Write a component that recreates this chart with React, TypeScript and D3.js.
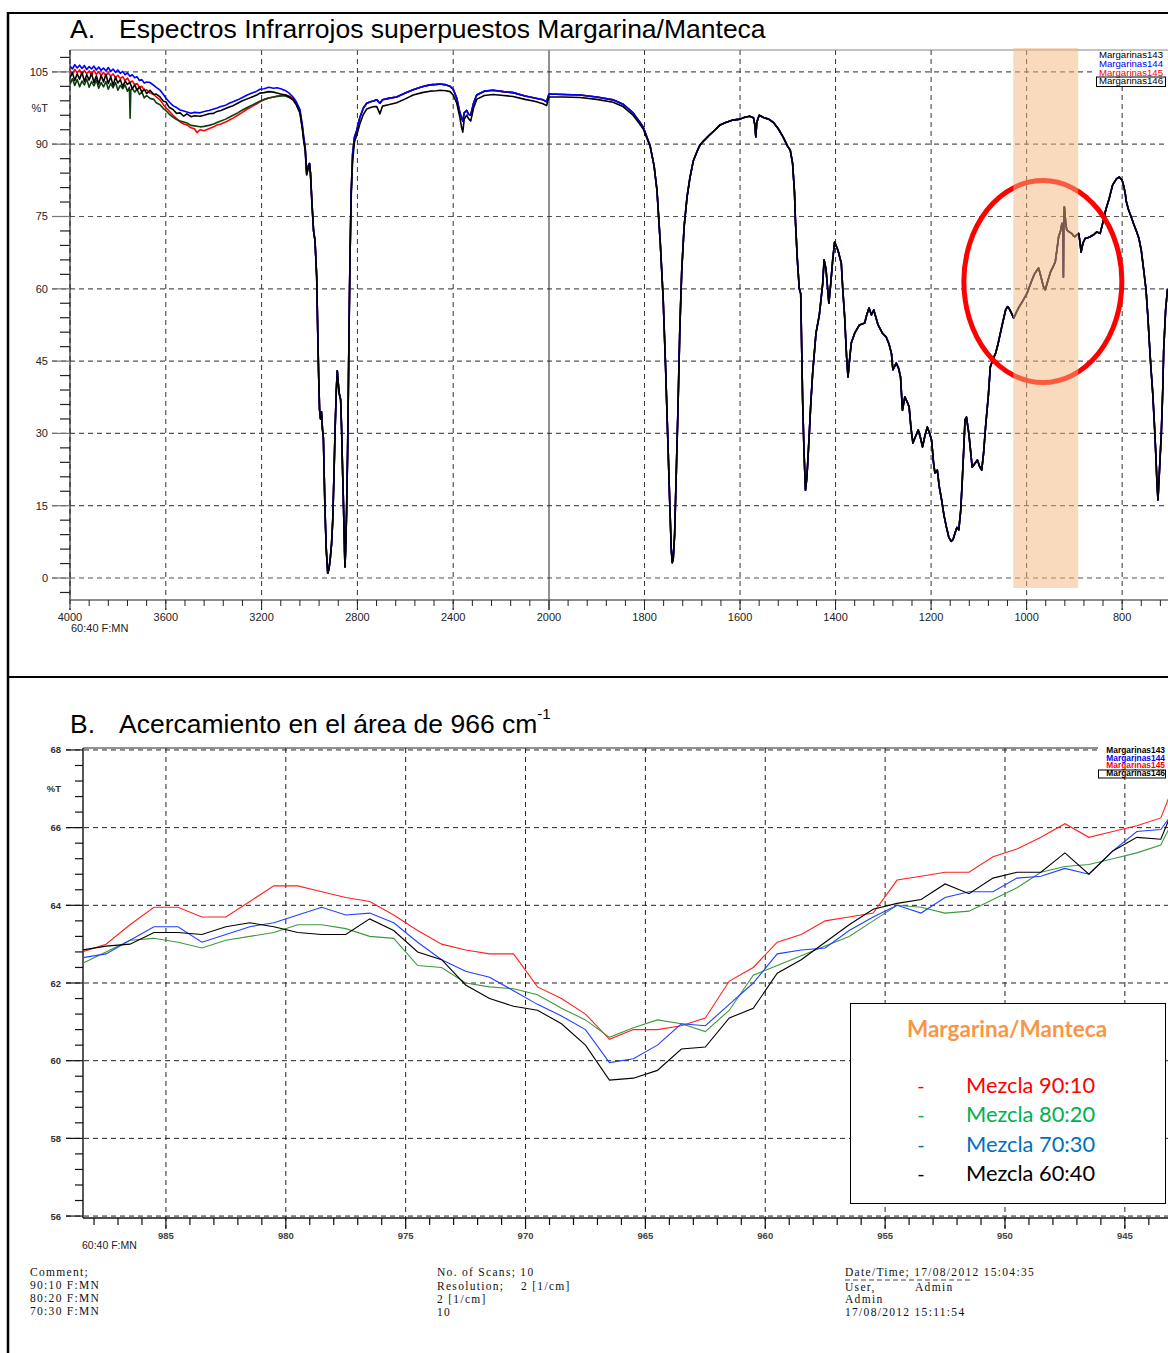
import React from 'react';
import * as d3 from 'd3';

type P = [number, number];

// ---------- Panel A: IR spectra (wavenumber cm-1, %T) ----------
const headS143: P[] = [[4000,102.4],[3990,103.6],[3980,102.2],[3970,103.4],[3960,101.9],[3950,103.1],[3940,102.3],[3930,103.5],[3920,101.8],[3910,103],[3900,102.1],[3890,103.3],[3880,101.6],[3870,102.8],[3860,101.9],[3850,103],[3840,101.4],[3830,102.6],[3820,101.7],[3810,102.8],[3800,101.2],[3790,102.2],[3780,101.5],[3770,102.3],[3760,101],[3752,101.8],[3749,95.4],[3746,101.2],[3740,101.6],[3730,100.8],[3720,101.4],[3710,100.3],[3700,100.8],[3690,99.6],[3680,100.1],[3666,99.5],[3650,99.3],[3640,98.6],[3624,98.2],[3610,97.4],[3600,97],[3585,96.2],[3570,95.6],[3555,95.1],[3540,94.8],[3525,94.6],[3512,94.4],[3495,93.9],[3480,93.8],[3457,93.6],[3440,93.7],[3420,93.9],[3400,94.2],[3386,94.5],[3370,94.8],[3350,95.2],[3335,95.6],[3319,96],[3300,96.5],[3280,97.1],[3260,97.6],[3240,98.1],[3220,98.6],[3207,98.9],[3190,99.3],[3170,99.6],[3150,99.8],[3136,99.9],[3120,100],[3100,100],[3085,99.7],[3069,99.2],[3055,98.2],[3040,96.6],[3030,93.4],[3024,90.8],[3018,88.9],[3012,83.8],[3006,85]];
const headS144: P[] = [[4000,106.2],[3990,105.6],[3980,106.5],[3970,105.8],[3960,106.4],[3950,105.7],[3940,106.3],[3930,105.5],[3920,106.1],[3910,105.6],[3900,106.2],[3890,105.4],[3880,106],[3870,105.3],[3860,105.8],[3850,105.2],[3840,105.9],[3830,105.1],[3820,105.6],[3810,104.9],[3800,105.4],[3790,104.7],[3780,105.1],[3770,104.4],[3760,104.8],[3750,104.1],[3740,104.4],[3730,103.8],[3720,104],[3710,103.2],[3700,103.4],[3690,102.7],[3680,102.9],[3666,102.8],[3650,102.2],[3640,101.8],[3624,101.2],[3610,100.3],[3600,99.6],[3585,98.7],[3570,98],[3555,97.6],[3540,97.1],[3525,96.9],[3512,96.7],[3495,96.4],[3480,96.6],[3457,96.5],[3440,96.8],[3420,97],[3400,97.3],[3386,97.5],[3370,97.8],[3350,98.1],[3335,98.5],[3319,98.8],[3300,99.2],[3280,99.7],[3260,100.2],[3240,100.6],[3220,101],[3207,101.4],[3190,101.5],[3170,101.8],[3150,101.6],[3136,101.7],[3120,101.5],[3100,101.1],[3085,100.6],[3069,99.8],[3055,98.8],[3040,97.2],[3030,94],[3024,91.5],[3018,89.5],[3012,84.5],[3006,85.5]];
const headS145: P[] = [[4000,105.2],[3990,104.6],[3980,105.5],[3970,104.8],[3960,105.4],[3950,104.5],[3940,105.3],[3930,104.6],[3920,105.2],[3910,104.4],[3900,105.3],[3890,104.5],[3880,105],[3870,104.3],[3860,104.9],[3850,104.2],[3840,104.8],[3830,104.1],[3820,104.6],[3810,103.8],[3800,104.3],[3790,103.6],[3780,104],[3770,103.2],[3760,103.7],[3750,102.8],[3740,103.1],[3730,102.4],[3720,102.6],[3710,101.8],[3700,102],[3690,101.2],[3680,101.3],[3666,100.6],[3650,100.3],[3640,99.8],[3624,99.2],[3610,98.2],[3600,97.6],[3585,96.8],[3570,96],[3555,95.3],[3540,94.6],[3525,94.2],[3512,94],[3495,93.4],[3480,93.2],[3470,92.4],[3457,93],[3440,92.8],[3420,93.2],[3400,93.6],[3386,94],[3370,94.2],[3350,94.6],[3335,95],[3319,95.4],[3300,96],[3280,96.6],[3260,97.3],[3240,97.8],[3220,98.4],[3207,98.8],[3190,99.2],[3170,99.6],[3150,99.8],[3136,100],[3120,100.1],[3100,100.2],[3085,100],[3069,99.5],[3055,98.6],[3040,97],[3030,93.8],[3024,91.2],[3018,89.3],[3012,84.2],[3006,85.3]];
const headS146: P[] = [[4000,103.8],[3990,104.8],[3980,103.2],[3970,104.6],[3960,103.5],[3950,104.9],[3940,103],[3930,104.4],[3920,103.3],[3910,104.7],[3900,102.8],[3890,104.2],[3880,102.5],[3870,104.3],[3860,102.9],[3850,104.5],[3840,102.6],[3830,104],[3820,102.2],[3810,103.9],[3800,102.7],[3790,103.4],[3780,101.9],[3770,103.1],[3760,102.4],[3750,102.8],[3740,101.5],[3730,102.3],[3720,101.2],[3710,101.9],[3700,100.8],[3690,101.4],[3680,100.5],[3666,101.2],[3650,100.3],[3640,100.4],[3624,99.8],[3610,98.9],[3600,98.8],[3585,97.6],[3570,97.2],[3555,96.4],[3540,96.5],[3525,95.8],[3512,96.3],[3495,95.7],[3480,95.9],[3457,95.8],[3440,96],[3420,96.3],[3400,96.4],[3386,96.8],[3370,97],[3350,97.4],[3335,97.7],[3319,98],[3300,98.5],[3280,99],[3260,99.4],[3240,99.8],[3220,100.2],[3207,100.6],[3190,100.7],[3170,100.9],[3150,100.8],[3136,100.6],[3120,100.4],[3100,100.2],[3085,99.8],[3069,99.2],[3055,98.2],[3040,96.5],[3030,93.2],[3024,90.6],[3018,88.7],[3012,83.6],[3006,84.8]];

const bandsCH: P[] = [[3000,86],[2996,84],[2990,78],[2983,72],[2977,70],[2970,62.5],[2966,52],[2962,42.5],[2958,35],[2954,33],[2950,34.5],[2946,31],[2942,29],[2938,20],[2935,13.5],[2930,6],[2924,1],[2919,1.8],[2914,3.7],[2908,7],[2903,12],[2898,21],[2893,31],[2888,39],[2884,43],[2881,41],[2876,38.3],[2870,37],[2866,31],[2863,24.5],[2859,17],[2856,10.6],[2852,2.3],[2849,6],[2845,14],[2841,26],[2838,38],[2834,55],[2831,66]];

const plateauColor: P[] = [[2826,80],[2820,88],[2812,91.5],[2803,92.8],[2790,95.5],[2775,97.5],[2761,98.5],[2745,98.8],[2730,99],[2719,99.2],[2706,98.5],[2695,99.2],[2670,99.5],[2636,99.8],[2600,100.6],[2567,101.3],[2530,101.9],[2497,102.3],[2470,102.4],[2455,102.5],[2430,102.3],[2413,102],[2400,101.4],[2385,99.5],[2372,96.5],[2365,95.5],[2360,94.8],[2354,96.5],[2344,97],[2336,96.2],[2327,96],[2315,98.5],[2302,100.2],[2270,101],[2234,101.2],[2190,100.9],[2150,100.7],[2100,100],[2060,99.6],[2025,99.2],[2010,98.8],[2000,100.4],[1970,100.3],[1935,100.2],[1900,99.8],[1866,99.2],[1845,98.3],[1824,96.5],[1810,94.6],[1803,93.6],[1795,91.5]];
const plateauBlack: P[] = [[2826,79],[2820,86.5],[2812,90.5],[2803,91.8],[2790,94.2],[2775,96.2],[2761,97.3],[2745,97.6],[2730,97.8],[2719,97.8],[2706,96.3],[2695,97.9],[2670,98.2],[2636,98.6],[2600,99.4],[2567,100.2],[2530,100.7],[2497,101],[2470,101.1],[2455,101.2],[2430,101.1],[2413,100.9],[2400,100.2],[2385,98.5],[2372,95.5],[2365,93.5],[2360,92.5],[2354,95.2],[2344,96],[2336,95.3],[2327,94.8],[2315,97.5],[2302,99.3],[2270,100.1],[2234,100.3],[2190,100.1],[2150,99.9],[2100,99.3],[2060,98.9],[2025,98.4],[2010,98],[2000,99.8],[1970,99.8],[1935,99.7],[1900,99.3],[1866,98.7],[1845,97.8],[1824,96],[1810,94.2],[1803,93.2],[1795,91.2]];

const fingerprint: P[] = [[1788,89.5],[1780,85.5],[1774,80.5],[1767,69.5],[1761,58],[1756,44],[1751,28],[1747,15],[1744,6],[1742,3.2],[1740,3.8],[1737,9],[1734,20],[1730,35],[1726,52],[1722,64],[1717,73],[1711,79],[1705,83],[1698,86.5],[1690,88.5],[1684,89.8],[1675,90.8],[1663,92],[1652,93],[1642,94],[1630,94.5],[1615,95],[1600,95.2],[1590,95.6],[1580,95.8],[1572,95.5],[1569,94],[1567,91.5],[1565,94.5],[1560,96],[1550,95.5],[1540,95.2],[1530,94.5],[1520,93.2],[1510,91.5],[1500,89.5],[1495,88.8],[1490,86],[1486,80],[1484,74],[1480,66],[1476,60],[1473,59],[1471,48],[1469,37],[1466,26],[1463,18.2],[1460,21],[1458,24.5],[1455,30],[1452,36],[1448,42.5],[1441,50.8],[1434,54.6],[1427,61],[1424,66],[1420,64],[1414,57],[1410,61.2],[1406,66],[1402,69.7],[1395,68],[1388,65.3],[1385,60],[1381,54.2],[1377,46],[1374,41.7],[1370,46],[1367,48.8],[1360,50.8],[1350,52.5],[1339,52.9],[1335,54.5],[1330,56],[1325,54.6],[1320,55.6],[1311,52.5],[1302,50.8],[1294,50],[1288,48.5],[1283,46.6],[1280,43.2],[1273,44.6],[1268,43.5],[1264,41.7],[1260,34.8],[1255,37.6],[1250,36.5],[1246,35.5],[1242,31],[1238,28],[1232,29.5],[1227,30.7],[1222,29],[1218,27.2],[1213,29.5],[1208,31.3],[1203,30],[1199,28.6],[1195,24],[1192,21.8],[1187,22.4],[1183,19],[1178,16.2],[1173,13],[1168,10.6],[1163,8.5],[1158,7.6],[1154,8],[1150,9.3],[1146,10.5],[1142,10],[1138,14],[1135,19.7],[1132,26],[1129,32.8],[1126,33.4],[1121,30],[1117,26],[1114,23],[1108,23.8],[1103,24.5],[1098,23],[1094,22.4],[1090,26],[1086,31.3],[1080,38],[1076,43.8],[1070,45.5],[1065,46.6],[1060,48.5],[1055,50.8],[1050,53],[1044,55.6],[1040,56.3],[1037,56],[1032,55],[1027,53.9],[1022,55],[1016,56.2],[1008,57.5],[999,59.1],[990,61.5],[984,63],[978,63.9],[975,64.3],[970,62.5],[965,60.5],[961,59.8],[956,61.5],[950,63.5],[945,64.5],[940,65.6],[936,68.5],[933,70.8],[929,72],[926,73.6],[924,72],[923,62.4],[922,75],[921,77],[918,73.5],[916,72.2],[911,71.8],[906,71.5],[902,71],[899,70.8],[895,71.2],[891,71.5],[888,69.5],[886,67.6],[882,69.5],[877,70.5],[872,70.6],[867,70.8],[860,71.2],[853,71.8],[846,71.5],[839,74.3],[834,76.5],[828,78.4],[820,81.5],[812,82.8],[806,83.2],[800,82.5],[796,81],[793,79.5],[792,78.4],[787,76.5],[781,74.9],[776,73.5],[771,72.2],[765,70.5],[760,68],[755,64],[750,59.8],[746,54],[743,48.8],[740,44],[736,38.4],[732,31],[729,24.5],[727,19.5],[725,16.2],[722,22],[718,30],[715,39],[713,47.3],[709,55.6],[705,60]];

const seriesA = [
  { name: 'Margarinas145', color: '#ff0000', data: [...headS145, ...bandsCH, ...plateauColor, ...fingerprint] },
  { name: 'Margarinas143', color: '#0c3f0c', data: [...headS143, ...bandsCH, ...plateauColor, ...fingerprint] },
  { name: 'Margarinas144', color: '#0000ff', data: [...headS144, ...bandsCH, ...plateauColor, ...fingerprint] },
  { name: 'Margarinas146', color: '#000000', data: [...headS146, ...bandsCH, ...plateauBlack, ...fingerprint] },
];
const legendA = [
  { label: 'Margarinas143', color: '#000000', boxed: false },
  { label: 'Margarinas144', color: '#0000ff', boxed: false },
  { label: 'Margarinas145', color: '#ff0000', boxed: false },
  { label: 'Margarinas146', color: '#000000', boxed: true },
];
const xTickLabelsA = [4000, 3600, 3200, 2800, 2400, 2000, 1800, 1600, 1400, 1200, 1000, 800];
const yTickLabelsA = [105, 90, 75, 60, 45, 30, 15, 0];
const highlightBand = [1028, 892];
const highlightCenter: P = [966, 61.5];

// ---------- Panel B: zoom around 966 cm-1 ----------
const wavenumbersB = [988.5, 987.5, 986.5, 985.5, 984.5, 983.5, 982.5, 981.5, 980.5, 979.5, 978.5, 977.5, 976.5, 975.5, 974.5, 973.5, 972.5, 971.5, 970.5, 969.5, 968.5, 967.5, 966.5, 965.5, 964.5, 963.5, 962.5, 961.5, 960.5, 959.5, 958.5, 957.5, 956.5, 955.5, 954.5, 953.5, 952.5, 951.5, 950.5, 949.5, 948.5, 947.5, 946.5, 945.5, 944.5, 943.5, 942.5];
const mix9010 = [62.8, 63.0, 63.5, 63.95, 63.95, 63.7, 63.7, 64.1, 64.5, 64.5, 64.35, 64.2, 64.1, 63.75, 63.35, 63.0, 62.85, 62.75, 62.75, 61.9, 61.6, 61.2, 60.55, 60.8, 60.8, 60.9, 61.1, 62.05, 62.4, 63.05, 63.25, 63.6, 63.7, 63.8, 64.65, 64.75, 64.85, 64.85, 65.25, 65.45, 65.75, 66.1, 65.75, 65.9, 66.05, 66.25, 67.8];
const mix8020 = [62.5, 62.8, 63.1, 63.15, 63.05, 62.9, 63.1, 63.2, 63.3, 63.5, 63.5, 63.4, 63.2, 63.15, 62.45, 62.4, 62.0, 61.9, 61.85, 61.7, 61.35, 61.05, 60.6, 60.85, 61.05, 60.95, 60.75, 61.3, 62.2, 62.45, 62.7, 62.95, 63.2, 63.6, 64.0, 63.95, 63.8, 63.85, 64.15, 64.45, 64.85, 65.0, 65.05, 65.2, 65.35, 65.55, 66.8];
const mix7030 = [62.65, 62.75, 63.1, 63.45, 63.45, 63.05, 63.25, 63.45, 63.55, 63.75, 63.95, 63.75, 63.8, 63.55, 63.05, 62.6, 62.3, 62.15, 61.8, 61.45, 61.15, 60.8, 59.95, 60.05, 60.4, 60.95, 60.9, 61.45, 62.0, 62.75, 62.85, 62.9, 63.35, 63.7, 64.0, 63.8, 64.2, 64.35, 64.35, 64.7, 64.75, 64.95, 64.8, 65.4, 65.9, 65.95, 66.8];
const mix6040 = [62.85, 62.95, 63.0, 63.3, 63.3, 63.25, 63.45, 63.55, 63.45, 63.3, 63.25, 63.25, 63.65, 63.35, 62.8, 62.6, 61.95, 61.6, 61.4, 61.3, 60.95, 60.4, 59.5, 59.55, 59.75, 60.3, 60.35, 61.1, 61.35, 62.25, 62.6, 63.05, 63.5, 63.9, 64.05, 64.15, 64.55, 64.3, 64.7, 64.85, 64.85, 65.35, 64.8, 65.4, 65.75, 65.7, 67.2];
const seriesB = [
  { label: 'Mezcla 90:10', color: '#ff0000', lineColor: '#ff2020', values: mix9010 },
  { label: 'Mezcla 80:20', color: '#00b050', lineColor: '#3c9a3c', values: mix8020 },
  { label: 'Mezcla 70:30', color: '#0070c0', lineColor: '#2040ff', values: mix7030 },
  { label: 'Mezcla 60:40', color: '#000000', lineColor: '#000000', values: mix6040 },
];
const xTickLabelsB = [985, 980, 975, 970, 965, 960, 955, 950, 945];
const yTickLabelsB = [68, 66, 64, 62, 60, 58, 56];
const legendBSmall = ['Margarinas143', 'Margarinas144', 'Margarinas145', 'Margarinas146'];
const legendBSmallColors = ['#000000', '#0000ff', '#ff0000', '#000000'];

const SANS = 'Liberation Sans, Arial, sans-serif';
const SERIF = 'Liberation Serif, Times New Roman, serif';

export default function App() {
  // Panel A scales
  const xA = d3.scaleLinear().domain([4000, 2000, 704]).range([70, 549, 1168]);
  const yA = d3.scaleLinear().domain([-4.56, 109.54]).range([600, 50]);
  const lineA = d3.line<P>().x(d => xA(d[0])).y(d => yA(d[1]));
  const minorXA = [...d3.range(4000, 2000, -80), ...d3.range(2000, 700, -40)];
  const minorYA = d3.range(-3, 109, 3);

  // Panel B scales
  const xB = d3.scaleLinear().domain([988.46, 943.2]).range([83, 1168]);
  const yB = d3.scaleLinear().domain([55.95, 68.05]).range([1218, 748]);
  const lineB = d3.line<number>().x((_, i) => xB(wavenumbersB[i])).y(d => yB(d));
  const minorXB = d3.range(988, 943, -1);
  const minorYB = d3.range(56, 68.01, 0.4);

  const dash = '5,4';

  return (
    <svg width={1168} height={1353} style={{ position: 'absolute', left: 0, top: 0, background: '#fff' }}>
      <rect x={0} y={0} width={1168} height={1353} fill="#fff" />
      <defs>
        <clipPath id="clipA"><rect x={70} y={50} width={1098} height={550} /></clipPath>
        <clipPath id="clipB"><rect x={83} y={748} width={1085} height={470} /></clipPath>
      </defs>

      {/* outer frame */}
      <line x1={8} y1={13} x2={1168} y2={13} stroke="#000" strokeWidth={2} />
      <line x1={8} y1={12} x2={8} y2={1353} stroke="#000" strokeWidth={2.5} />
      <line x1={8} y1={677} x2={1168} y2={677} stroke="#000" strokeWidth={2} />

      {/* ===== Panel A ===== */}
      <text x={70} y={38} fontFamily={SANS} fontSize={26.5} fill="#000">A.</text>
      <text x={119} y={38} fontFamily={SANS} fontSize={26.5} fill="#000">Espectros Infrarrojos superpuestos Margarina/Manteca</text>

      {/* grid */}
      {yTickLabelsA.map(v => (
        <line key={'gy' + v} x1={52} x2={1168} y1={yA(v)} y2={yA(v)} stroke="#555" strokeWidth={1.2} strokeDasharray={dash} />
      ))}
      {xTickLabelsA.map(v => (
        <line key={'gx' + v} x1={xA(v)} x2={xA(v)} y1={50} y2={610} stroke={v === 2000 ? '#222' : '#333'} strokeWidth={1} strokeDasharray={v === 2000 ? undefined : dash} />
      ))}
      {/* axes */}
      <line x1={70} y1={50} x2={1168} y2={50} stroke="#888" strokeWidth={1.2} />
      <line x1={70} y1={50} x2={70} y2={600} stroke="#222" strokeWidth={1.2} />
      <line x1={70} y1={600} x2={1168} y2={600} stroke="#666" strokeWidth={1.4} />
      {minorYA.map(v => (
        <line key={'ty' + v} x1={v % 15 === 0 ? 52 : 60} x2={70} y1={yA(v)} y2={yA(v)} stroke={v % 15 === 0 ? '#777' : '#222'} strokeWidth={1.2} />
      ))}
      {minorXA.map(v => (
        <line key={'tx' + v} x1={xA(v)} x2={xA(v)} y1={600} y2={xTickLabelsA.includes(v) ? 610 : 606} stroke="#222" strokeWidth={1} />
      ))}
      {yTickLabelsA.map(v => (
        <text key={'ly' + v} x={48} y={yA(v) + 4} textAnchor="end" fontFamily={SANS} fontSize={11} fill="#222">{v}</text>
      ))}
      <text x={48} y={112} textAnchor="end" fontFamily={SANS} fontSize={11} fill="#222">%T</text>
      {xTickLabelsA.map(v => (
        <text key={'lx' + v} x={xA(v)} y={621} textAnchor="middle" fontFamily={SANS} fontSize={11} fill="#222">{v}</text>
      ))}
      <text x={71} y={632} fontFamily={SANS} fontSize={11} fill="#222">60:40 F:MN</text>

      {/* spectra */}
      <g clipPath="url(#clipA)">
        {seriesA.map(s => (
          <path key={s.name} d={lineA(s.data) || ''} fill="none" stroke={s.color} strokeWidth={1.6} strokeLinejoin="round" />
        ))}
      </g>

      {/* small legend A */}
      <rect x={1096} y={51} width={72} height={36} fill="#fff" />
      {legendA.map((l, i) => (
        <g key={l.label}>
          {l.boxed && <rect x={1096.5} y={77} width={69} height={9.5} fill="none" stroke="#000" strokeWidth={1} />}
          <text x={1163} y={58 + i * 8.8} textAnchor="end" fontFamily={SANS} fontSize={9.6} fill={l.color}>{l.label}</text>
        </g>
      ))}

      {/* highlight ellipse and band */}
      <ellipse cx={xA(highlightCenter[0])} cy={yA(highlightCenter[1])} rx={79} ry={101} fill="none" stroke="#ff0000" strokeWidth={5} />
      <rect x={xA(highlightBand[0])} y={48} width={xA(highlightBand[1]) - xA(highlightBand[0])} height={540} fill="rgb(245,182,124)" opacity={0.5} />

      {/* ===== Panel B ===== */}
      <text x={70} y={733} fontFamily={SANS} fontSize={26.5} fill="#000">B.</text>
      <text x={119} y={733} fontFamily={SANS} fontSize={26.5} fill="#000">Acercamiento en el área de 966 cm<tspan dy={-14} fontSize={15}>-1</tspan></text>

      {yTickLabelsB.map(v => (
        <line key={'gyb' + v} x1={66} x2={1168} y1={yB(v)} y2={yB(v)} stroke="#222" strokeWidth={1} strokeDasharray={dash} />
      ))}
      {xTickLabelsB.map(v => (
        <line key={'gxb' + v} x1={xB(v)} x2={xB(v)} y1={748} y2={1228} stroke="#222" strokeWidth={1} strokeDasharray={dash} />
      ))}
      <line x1={83} y1={748} x2={1168} y2={748} stroke="#222" strokeWidth={1} />
      <line x1={83} y1={748} x2={83} y2={1218} stroke="#111" strokeWidth={1.4} />
      <line x1={83} y1={1218} x2={1168} y2={1218} stroke="#111" strokeWidth={1.4} />
      {minorYB.map(v => {
        const major = Math.abs(v - Math.round(v)) < 0.01 && Math.round(v) % 2 === 0;
        return <line key={'tyb' + v} x1={major ? 66 : 75} x2={83} y1={yB(v)} y2={yB(v)} stroke="#111" strokeWidth={1.2} />;
      })}
      {minorXB.map(v => (
        <line key={'txb' + v} x1={xB(v)} x2={xB(v)} y1={1218} y2={xTickLabelsB.includes(v) ? 1229 : 1225} stroke="#111" strokeWidth={1.2} />
      ))}
      {yTickLabelsB.map(v => (
        <text key={'lyb' + v} x={61} y={yB(v) + 3.5} textAnchor="end" fontFamily={SANS} fontSize={9.5} fontWeight="bold" fill="#333">{v}</text>
      ))}
      <text x={61} y={792} textAnchor="end" fontFamily={SANS} fontSize={9.5} fontWeight="bold" fill="#333">%T</text>
      {xTickLabelsB.map(v => (
        <text key={'lxb' + v} x={xB(v)} y={1239} textAnchor="middle" fontFamily={SANS} fontSize={9.5} fontWeight="bold" fill="#444">{v}</text>
      ))}
      <text x={82} y={1249} fontFamily={SANS} fontSize={10.5} fill="#222">60:40 F:MN</text>

      <g clipPath="url(#clipB)">
        {seriesB.map(s => (
          <path key={s.label} d={lineB(s.values) || ''} fill="none" stroke={s.lineColor} strokeWidth={1.1} />
        ))}
      </g>

      {/* small legend B */}
      <rect x={1098} y={746} width={70} height={32} fill="#fff" />
      {legendBSmall.map((l, i) => (
        <g key={l}>
          {i === 3 && <rect x={1098.5} y={770} width={67} height={8} fill="none" stroke="#000" strokeWidth={1} />}
          <text x={1165} y={753 + i * 7.7} textAnchor="end" fontFamily={SANS} fontSize={8.4} fontWeight="bold" fill={legendBSmallColors[i]}>{l}</text>
        </g>
      ))}

      {/* legend box B */}
      <rect x={850.5} y={1003.5} width={315} height={200} fill="#fff" stroke="#000" strokeWidth={1} />
      <text x={1007} y={1037} textAnchor="middle" fontFamily="Lato, sans-serif" fontWeight="bold" fontSize={22.5} fill="#f79646">Margarina/Manteca</text>
      {seriesB.map((s, i) => (
        <g key={'lg' + s.label}>
          <text x={921} y={1093 + i * 29.3} textAnchor="middle" fontFamily="Lato, sans-serif" fontSize={20} fill={s.color}>-</text>
          <text x={966} y={1093 + i * 29.3} fontFamily="Lato, sans-serif" fontSize={21.8} fill={s.color}>{s.label}</text>
        </g>
      ))}

      {/* footer */}
      <g fontFamily={SERIF} fontSize={11.5} letterSpacing={1.3} fill="#111">
        <text x={30} y={1276}>Comment;</text>
        <text x={30} y={1289}>90:10 F:MN</text>
        <text x={30} y={1302}>80:20 F:MN</text>
        <text x={30} y={1315}>70:30 F:MN</text>
        <text x={437} y={1276}>No. of Scans; 10</text>
        <text x={437} y={1290}>Resolution;</text>
        <text x={521} y={1290}>2 [1/cm]</text>
        <text x={437} y={1303}>2 [1/cm]</text>
        <text x={437} y={1316}>10</text>
        <text x={845} y={1276}>Date/Time; 17/08/2012 15:04:35</text>
        <line x1={845} y1={1280} x2={970} y2={1280} stroke="#444" strokeWidth={1} strokeDasharray="5,3" />
        <text x={845} y={1291}>User,</text>
        <text x={915} y={1291}>Admin</text>
        <text x={845} y={1303}>Admin</text>
        <text x={845} y={1316}>17/08/2012 15:11:54</text>
      </g>
    </svg>
  );
}
